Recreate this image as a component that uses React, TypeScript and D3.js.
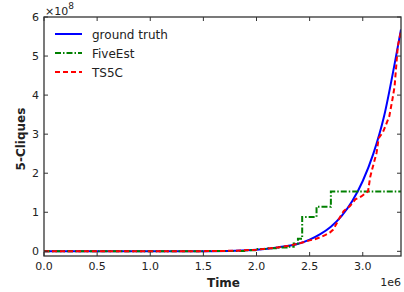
import React from "react";
import * as d3 from "d3";

// time in 1e6, counts in 1e8
const truthT = [0, 0.5, 1.0, 1.5, 1.8, 2.0, 2.2, 2.4, 2.5, 2.6, 2.7, 2.8, 2.9, 3.0, 3.1, 3.2, 3.3, 3.36];
const truthV = [0, 0, 0, 0.003, 0.015, 0.04, 0.1, 0.2, 0.3, 0.44, 0.63, 0.9, 1.28, 1.8, 2.5, 3.45, 4.8, 5.68];

const fiveT = [0, 1.5, 1.9, 2.0, 2.1, 2.2, 2.3, 2.35, 2.39, 2.43, 2.565, 2.7, 3.36];
const fiveV = [0, 0.005, 0.03, 0.06, 0.08, 0.1, 0.12, 0.2, 0.32, 0.88, 1.14, 1.53, 1.53];

const tsT = [0, 0.5, 1.0, 1.5, 1.8, 2.0, 2.2, 2.3, 2.4, 2.5, 2.55, 2.6, 2.65, 2.69, 2.72, 2.75, 2.78, 2.82, 2.88, 2.93, 2.99, 3.05, 3.07, 3.08, 3.13, 3.15, 3.19, 3.22, 3.25, 3.28, 3.3, 3.33, 3.36];
const tsV = [0, 0, 0, 0.003, 0.015, 0.04, 0.1, 0.14, 0.2, 0.28, 0.31, 0.36, 0.42, 0.48, 0.55, 0.69, 0.85, 1.03, 1.16, 1.33, 1.41, 1.54, 1.9, 2.01, 2.52, 2.9, 3.05, 3.25, 3.46, 3.9, 4.23, 5.25, 5.63];

const xTicks = [0, 0.5, 1.0, 1.5, 2.0, 2.5, 3.0];
const yTicks = [0, 1, 2, 3, 4, 5, 6];

const legendNames = ["ground truth", "FiveEst", "TS5C"];

const W = 404;
const H = 292;
const m = { left: 44, right: 401, top: 17, bottom: 256 };
const font = "DejaVu Sans, sans-serif";

export default function App() {
  const x = d3.scaleLinear().domain([0, 3.36]).range([m.left, m.right]);
  const y = d3.scaleLinear().domain([-0.12, 6]).range([m.bottom, m.top]);

  const line = d3.line<[number, number]>().x(d => x(d[0])).y(d => y(d[1]));
  const smooth = d3.line<[number, number]>().x(d => x(d[0])).y(d => y(d[1])).curve(d3.curveMonotoneX);
  const stepLine = d3.line<[number, number]>().x(d => x(d[0])).y(d => y(d[1])).curve(d3.curveStepAfter);

  const zip = (a: number[], b: number[]) => a.map((t, i) => [t, b[i]] as [number, number]);

  const series = [
    { d: smooth(zip(truthT, truthV)), color: "#0000ff", dash: "none" },
    { d: stepLine(zip(fiveT, fiveV)), color: "#008000", dash: "6,2,1.5,2" },
    { d: line(zip(tsT, tsV)), color: "#ff0000", dash: "5,3" },
  ];

  const tl = 4;

  return (
    <svg width={W} height={H} style={{ position: "absolute", left: 0, top: 0 }} fontFamily={font}>
      <rect width={W} height={H} fill="#fff" />
      <defs>
        <clipPath id="plot">
          <rect x={m.left} y={m.top} width={m.right - m.left} height={m.bottom - m.top} />
        </clipPath>
      </defs>
      <g clipPath="url(#plot)">
        {series.map((s, i) => (
          <path key={i} d={s.d || ""} fill="none" stroke={s.color} strokeWidth={2} strokeDasharray={s.dash} />
        ))}
      </g>
      {/* ticks */}
      {xTicks.map(t => (
        <g key={"x" + t}>
          <line x1={x(t)} x2={x(t)} y1={m.bottom} y2={m.bottom - tl} stroke="#333" />
          <line x1={x(t)} x2={x(t)} y1={m.top} y2={m.top + tl} stroke="#333" />
          <text x={x(t)} y={m.bottom + 14} fontSize={11} textAnchor="middle" fill="#222">{t.toFixed(1)}</text>
        </g>
      ))}
      {yTicks.map(t => (
        <g key={"y" + t}>
          <line x1={m.left} x2={m.left + tl} y1={y(t)} y2={y(t)} stroke="#333" />
          <line x1={m.right} x2={m.right - tl} y1={y(t)} y2={y(t)} stroke="#333" />
          <text x={m.left - 5} y={y(t) + 4} fontSize={11} textAnchor="end" fill="#222">{t}</text>
        </g>
      ))}
      <rect x={m.left} y={m.top} width={m.right - m.left} height={m.bottom - m.top} fill="none" stroke="#333" strokeWidth={1.3} />
      {/* legend */}
      {legendNames.map((n, i) => (
        <g key={n}>
          <line x1={55} x2={82} y1={34 + i * 19} y2={34 + i * 19} stroke={series[i].color} strokeWidth={2} strokeDasharray={series[i].dash} />
          <text x={92} y={39 + i * 19} fontSize={12} fill="#222">{n}</text>
        </g>
      ))}
      <text x={m.left + 1} y={15} fontSize={11} fill="#222">×10<tspan dy={-6} fontSize={9}>8</tspan></text>
      <text x={m.right} y={286} fontSize={11} textAnchor="end" fill="#222">1e6</text>
      <text x={(m.left + m.right) / 2 + 1} y={287} fontSize={12} fontWeight="bold" textAnchor="middle" fill="#222">Time</text>
      <text transform={`translate(25,139) rotate(-90)`} fontSize={12} fontWeight="bold" textAnchor="middle" fill="#222">5-Cliques</text>
    </svg>
  );
}
